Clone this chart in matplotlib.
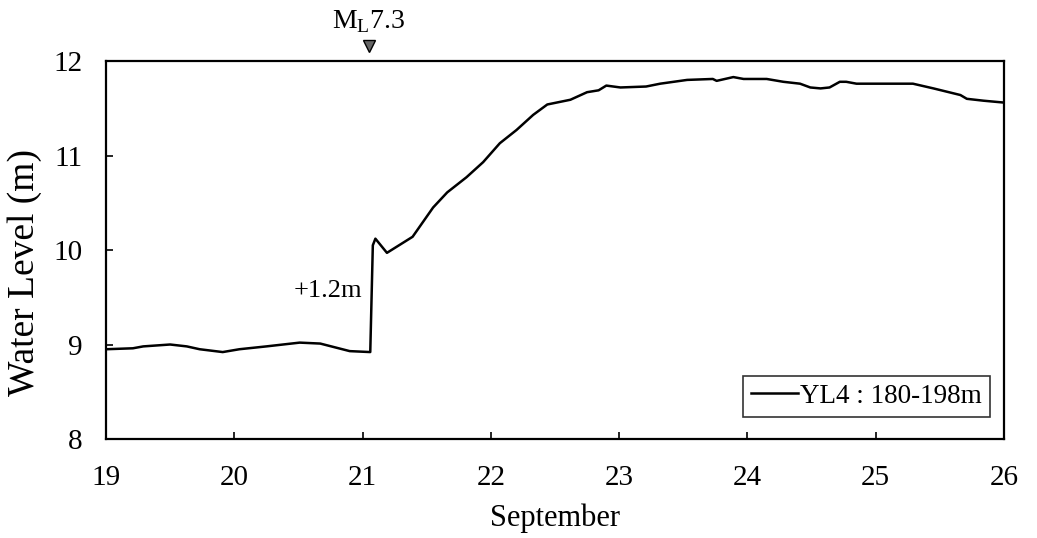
import numpy as np
import matplotlib.pyplot as plt

plt.rcParams['font.family'] = 'Liberation Serif'

# day of September vs water level (m)
day = [19.0, 19.21, 19.29, 19.50, 19.63, 19.73, 19.91, 20.04, 20.25, 20.51, 20.67,
       20.90, 21.06, 21.08, 21.10, 21.19, 21.39, 21.55, 21.66, 21.81, 21.94, 22.07,
       22.20, 22.33, 22.44, 22.62, 22.75, 22.84, 22.90, 23.01, 23.21, 23.32, 23.53,
       23.73, 23.76, 23.89, 23.97, 24.15, 24.28, 24.41, 24.49, 24.57, 24.64, 24.72,
       24.77, 24.85, 25.06, 25.29, 25.45, 25.66, 25.71, 25.84, 26.0]
level = [8.95, 8.96, 8.98, 9.00, 8.98, 8.95, 8.92, 8.95, 8.98, 9.02, 9.01,
         8.93, 8.92, 10.05, 10.12, 9.97, 10.14, 10.45, 10.61, 10.77, 10.93, 11.13,
         11.27, 11.43, 11.54, 11.59, 11.67, 11.69, 11.74, 11.72, 11.73, 11.76, 11.80,
         11.81, 11.79, 11.83, 11.81, 11.81, 11.78, 11.76, 11.72, 11.71, 11.72, 11.78,
         11.78, 11.76, 11.76, 11.76, 11.71, 11.64, 11.60, 11.58, 11.56]

quake_day = 21.05
xticks = [19, 20, 21, 22, 23, 24, 25, 26]
yticks = [8, 9, 10, 11, 12]

fig = plt.figure(figsize=(10.37, 5.38), dpi=100)
ax = fig.add_axes([0.1022, 0.184, 0.866, 0.7026])

ax.plot(day, level, color='black', lw=1.8, label='YL4 : 180-198m')
ax.set_xlim(19, 26)
ax.set_ylim(8, 12)
ax.set_xticks(xticks)
ax.set_yticks(yticks)
ax.tick_params(direction='in', length=5, width=1.2, labelsize=21)
ax.tick_params(axis='y', pad=17)
ax.tick_params(axis='x', pad=19)
for s in ax.spines.values():
    s.set_linewidth(1.6)

ax.set_xlabel('September', fontsize=22, labelpad=9)
ax.set_ylabel('Water Level (m)', fontsize=27)
ax.yaxis.set_label_coords(-0.071, 0.44)

ax.text(21.0, 9.57, '+1.2m', fontsize=19, ha='right', va='center')
ax.plot([quake_day], [12.16], marker='v', ms=9, mfc='#666666', mec='black',
        clip_on=False)
ax.text(quake_day, 12.27, r'M$_\mathregular{L}$7.3', fontsize=20, ha='center',
        va='bottom')

leg = ax.legend(loc='lower right', fontsize=19.5, frameon=True, fancybox=False,
                handlelength=1.75, handletextpad=0.05, borderpad=0.3,
                borderaxespad=0, bbox_to_anchor=(0.984, 0.058))
leg.get_frame().set_edgecolor('black')
leg.get_frame().set_linewidth(1.2)

fig.savefig('out.png', dpi=100)
